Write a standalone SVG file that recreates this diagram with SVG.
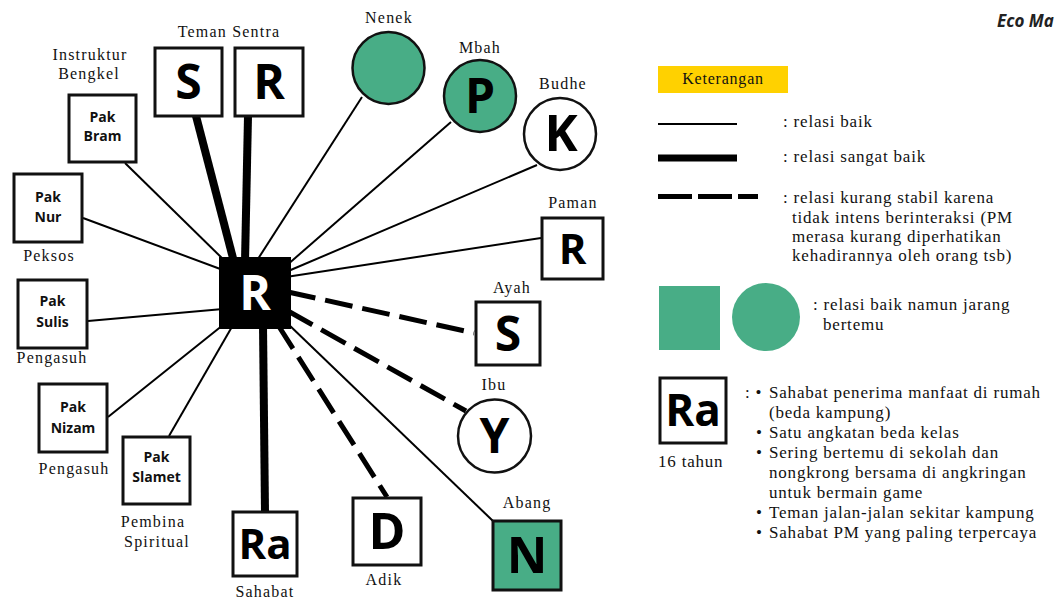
<svg xmlns="http://www.w3.org/2000/svg" width="1056" height="599" viewBox="0 0 1056 599">
<style>
.lbl{font-family:"Liberation Serif",serif;font-size:16px;letter-spacing:1.2px;fill:#111;text-anchor:middle}
.leg{font-family:"Liberation Serif",serif;font-size:17px;letter-spacing:0.8px;fill:#111}
.box{fill:#fff;stroke:#111;stroke-width:3}
.gbox{fill:#48ad86;stroke:#111;stroke-width:3}
.big{font-family:"Open Sans",sans-serif;font-weight:bold;fill:#000;text-anchor:middle}
.pak{font-family:"Open Sans",sans-serif;font-weight:bold;font-size:14px;fill:#111;text-anchor:middle}
.thin{stroke:#000;stroke-width:2;fill:none}
.thick{stroke:#000;stroke-width:8;fill:none}
.dash{stroke:#000;stroke-width:5;fill:none;stroke-dasharray:28 10}
</style>
<rect width="1056" height="599" fill="#fff"/>
<text x="997" y="27" font-family="Open Sans, sans-serif" font-weight="bold" font-style="italic" font-size="17" fill="#222">Eco Ma</text>

<g id="connectors">
<line class="thick" x1="196" y1="116" x2="234" y2="262"/>
<line class="thick" x1="248" y1="116" x2="245" y2="262"/>
<line class="thin" x1="362" y1="97" x2="256" y2="262"/>
<line class="thin" x1="451" y1="122" x2="286" y2="266"/>
<line class="thin" x1="537" y1="165" x2="286" y2="272"/>
<line class="thin" x1="541" y1="238" x2="286" y2="277"/>
<line class="dash" x1="288" y1="292" x2="474" y2="333"/>
<line class="dash" x1="288" y1="311" x2="466" y2="411"/>
<line class="thin" x1="286" y1="322" x2="493" y2="521"/>
<line class="dash" x1="278" y1="325" x2="387" y2="497"/>
<line class="thick" x1="263" y1="325" x2="265" y2="512"/>
<line class="thin" x1="169" y1="436" x2="233" y2="325"/>
<line class="thin" x1="108" y1="417" x2="223" y2="325"/>
<line class="thin" x1="88" y1="321" x2="223" y2="309"/>
<line class="thin" x1="83" y1="218" x2="223" y2="270"/>
<line class="thin" x1="125" y1="163" x2="226" y2="262"/>
</g>

<g id="center">
<rect x="219" y="257" width="72" height="72" fill="#000"/>
<text class="big" x="255" y="310" font-size="48" style="fill:#fff">R</text>
</g>

<g id="teman-s"><rect class="box" x="155" y="48" width="67" height="68"/><text class="big" x="188.5" y="99" font-size="48">S</text></g>
<g id="teman-r"><rect class="box" x="235" y="48" width="68" height="68"/><text class="big" x="269" y="99" font-size="48">R</text></g>
<text class="lbl" x="229" y="37">Teman Sentra</text>

<g id="nenek"><circle cx="388.5" cy="68" r="36" fill="#48ad86" stroke="#111" stroke-width="2.5"/><text class="lbl" x="389" y="23">Nenek</text></g>
<g id="mbah"><circle cx="480" cy="96" r="36" fill="#48ad86" stroke="#111" stroke-width="2.5"/><text class="big" x="480" y="113" font-size="48">P</text><text class="lbl" x="480" y="53">Mbah</text></g>
<g id="budhe"><circle cx="560" cy="134" r="36" fill="#fff" stroke="#111" stroke-width="2.5"/><text class="big" x="561" y="151" font-size="50">K</text><text class="lbl" x="563" y="89">Budhe</text></g>
<g id="paman"><rect class="box" x="542" y="218" width="61" height="61"/><text class="big" x="572.5" y="264" font-size="42">R</text><text class="lbl" x="573" y="208">Paman</text></g>
<g id="ayah"><rect class="box" x="476" y="302" width="64" height="63"/><text class="big" x="508" y="351" font-size="48">S</text><text class="lbl" x="512" y="293">Ayah</text></g>
<g id="ibu"><circle cx="494.5" cy="436" r="36.5" fill="#fff" stroke="#111" stroke-width="2.5"/><text class="big" x="494.5" y="453" font-size="48">Y</text><text class="lbl" x="494" y="390">Ibu</text></g>
<g id="abang"><rect class="gbox" x="493" y="521" width="68" height="69"/><text class="big" x="527" y="573" font-size="50">N</text><text class="lbl" x="527" y="508">Abang</text></g>
<g id="adik"><rect class="box" x="353" y="498" width="68" height="67"/><text class="big" x="387" y="549" font-size="50">D</text><text class="lbl" x="384" y="585">Adik</text></g>
<g id="sahabat"><rect class="box" x="233" y="512" width="64" height="64"/><text class="big" x="265" y="559" font-size="42">Ra</text><text class="lbl" x="265" y="597">Sahabat</text></g>

<g id="pak-slamet"><rect class="box" x="123" y="437" width="67" height="67"/><text class="pak" x="156.5" y="462">Pak</text><text class="pak" x="156.5" y="482">Slamet</text><text class="lbl" x="153" y="527">Pembina</text><text class="lbl" x="157" y="547">Spiritual</text></g>
<g id="pak-nizam"><rect class="box" x="39" y="384" width="68" height="68"/><text class="pak" x="73" y="412">Pak</text><text class="pak" x="73" y="433">Nizam</text><text class="lbl" x="74" y="474">Pengasuh</text></g>
<g id="pak-sulis"><rect class="box" x="18" y="280" width="69" height="68"/><text class="pak" x="52.5" y="306">Pak</text><text class="pak" x="52.5" y="327">Sulis</text><text class="lbl" x="52" y="363">Pengasuh</text></g>
<g id="pak-nur"><rect class="box" x="14" y="174" width="68" height="68"/><text class="pak" x="48" y="202">Pak</text><text class="pak" x="48" y="222">Nur</text><text class="lbl" x="49" y="261">Peksos</text></g>
<g id="pak-bram"><rect class="box" x="69" y="95" width="67" height="67"/><text class="pak" x="102.5" y="122">Pak</text><text class="pak" x="102.5" y="141">Bram</text><text class="lbl" x="90" y="60">Instruktur</text><text class="lbl" x="89" y="79">Bengkel</text></g>

<g id="legend">
<rect x="658" y="66" width="130" height="27" fill="#ffd100"/>
<text x="723" y="84" font-family="Liberation Serif, serif" font-size="16" letter-spacing="0.8" fill="#111" text-anchor="middle">Keterangan</text>
<line x1="658" y1="124" x2="737" y2="124" stroke="#000" stroke-width="2"/>
<text class="leg" x="783" y="127">: relasi baik</text>
<line x1="658" y1="158" x2="737" y2="158" stroke="#000" stroke-width="7"/>
<text class="leg" x="783" y="162">: relasi sangat baik</text>
<line x1="658" y1="196.5" x2="758" y2="196.5" stroke="#000" stroke-width="5" stroke-dasharray="34 6"/>
<text class="leg" x="783" y="203">: relasi kurang stabil karena</text>
<text class="leg" x="792" y="223">tidak intens berinteraksi (PM</text>
<text class="leg" x="792" y="242">merasa kurang diperhatikan</text>
<text class="leg" x="792" y="261">kehadirannya oleh orang tsb)</text>
<rect x="659" y="286" width="61" height="64" fill="#48ad86"/>
<circle cx="766" cy="317" r="34" fill="#48ad86"/>
<text class="leg" x="813" y="310">: relasi baik namun jarang</text>
<text class="leg" x="823" y="330">bertemu</text>
<rect class="box" x="660" y="378" width="66" height="65"/>
<text class="big" x="693" y="426" font-size="44">Ra</text>
<text class="leg" x="658" y="467">16 tahun</text>
<text class="leg" x="745" y="398">: •</text>
<text class="leg" x="769" y="398">Sahabat penerima manfaat di rumah</text>
<text class="leg" x="769" y="418">(beda kampung)</text>
<text class="leg" x="756" y="438">•</text>
<text class="leg" x="769" y="438">Satu angkatan beda kelas</text>
<text class="leg" x="756" y="458">•</text>
<text class="leg" x="769" y="458">Sering bertemu di sekolah dan</text>
<text class="leg" x="769" y="478">nongkrong bersama di angkringan</text>
<text class="leg" x="769" y="498">untuk bermain game</text>
<text class="leg" x="756" y="518">•</text>
<text class="leg" x="769" y="518">Teman jalan-jalan sekitar kampung</text>
<text class="leg" x="756" y="538">•</text>
<text class="leg" x="769" y="538">Sahabat PM yang paling terpercaya</text>
</g>
</svg>
